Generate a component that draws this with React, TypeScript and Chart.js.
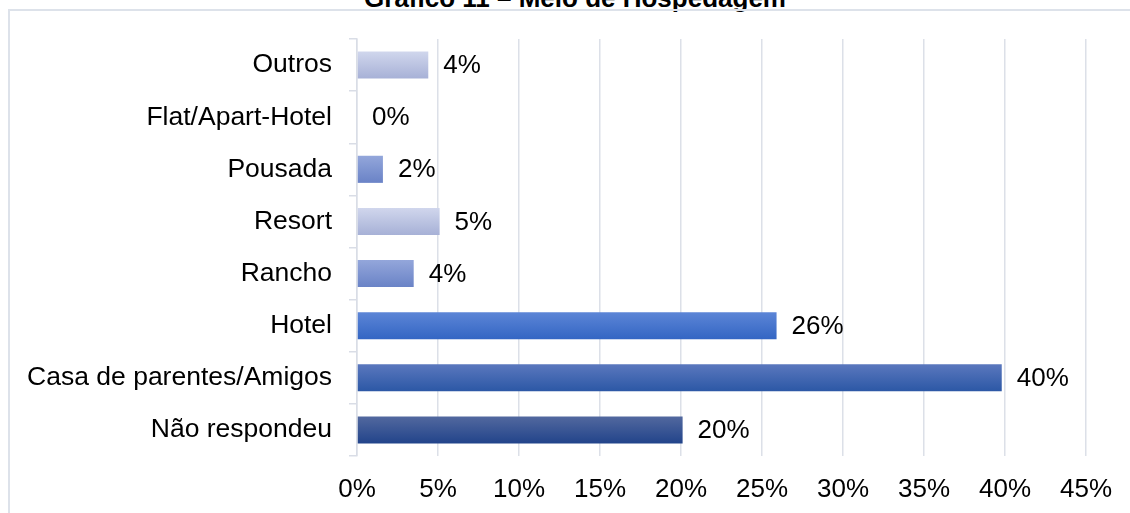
import React, { useEffect, useRef } from "react";
import { Chart, registerables } from "chart.js";

Chart.register(...registerables);

const TITLE = "Gráfico 11 – Meio de Hospedagem";
const categories = [
  "Outros",
  "Flat/Apart-Hotel",
  "Pousada",
  "Resort",
  "Rancho",
  "Hotel",
  "Casa de parentes/Amigos",
  "Não respondeu",
];
const values = [4.4, 0, 1.6, 5.1, 3.5, 25.9, 39.8, 20.1];
const topColors = ["#d1d7ed", "#d1d7ed", "#94a7db", "#d1d7ed", "#94a7db", "#5d86d7", "#5b78be", "#53699f"];
const bottomColors = ["#a6b0d6", "#a6b0d6", "#6982c6", "#a6b0d6", "#6982c6", "#3365c3", "#2b57a5", "#21438a"];
const xMax = 45;
const xStep = 5;

const FONT = "'Liberation Sans', Arial, sans-serif";

const labelPlugin = {
  id: "valueLabels",
  afterDatasetsDraw(chart: any) {
    const ctx = chart.ctx;
    const meta = chart.getDatasetMeta(0);
    ctx.save();
    ctx.font = `26px ${FONT}`;
    ctx.fillStyle = "#000000";
    ctx.textAlign = "left";
    ctx.textBaseline = "middle";
    meta.data.forEach((bar: any, i: number) => {
      ctx.fillText(Math.round(values[i]) + "%", bar.x + 15, bar.y + 1);
    });
    ctx.restore();
  },
};

export default function App() {
  const ref = useRef<HTMLCanvasElement>(null);
  useEffect(() => {
    if (!ref.current) return;
    const chart = new Chart(ref.current, {
      type: "bar",
      data: {
        labels: categories,
        datasets: [
          {
            data: values,
            backgroundColor: (c: any) => {
              const ch = c.chart;
              const i = c.dataIndex;
              if (!ch.chartArea || !ch.scales || !ch.scales.y || i === undefined) return topColors[i || 0];
              const yc = ch.scales.y.getPixelForValue(i);
              const g = ch.ctx.createLinearGradient(0, yc - 14, 0, yc + 14);
              g.addColorStop(0, topColors[i]);
              g.addColorStop(1, bottomColors[i]);
              return g;
            },
            borderWidth: 0,
            barPercentage: 0.52,
            categoryPercentage: 1,
          },
        ],
      },
      options: {
        indexAxis: "y",
        animation: false,
        responsive: false,
        maintainAspectRatio: false,
        layout: { padding: { top: 39, right: 44, bottom: 0, left: 0 } },
        plugins: {
          legend: { display: false },
          title: { display: false },
          tooltip: { enabled: false },
        },
        scales: {
          x: {
            min: 0,
            max: xMax,
            ticks: {
              stepSize: xStep,
              callback: (v: any) => v + "%",
              color: "#000000",
              font: { family: FONT, size: 26 },
              padding: 18,
              maxRotation: 0,
            },
            grid: { color: "#dce0e8", lineWidth: 1.5, drawTicks: false },
            border: { display: false },
            afterFit: (s: any) => {
              s.height = 57;
            },
          },
          y: {
            ticks: {
              color: "#000000",
              font: { family: FONT, size: 26.5 },
              padding: 17,
            },
            grid: {
              offset: true,
              drawOnChartArea: false,
              drawTicks: true,
              tickLength: 8,
              color: "#d9dde6",
              lineWidth: 1.5,
            },
            border: { display: true, color: "#d9dde6", width: 1.5 },
            afterFit: (s: any) => {
              s.width = 357;
            },
          },
        },
      },
      plugins: [labelPlugin],
    } as any);
    return () => chart.destroy();
  }, []);

  return (
    <div style={{ position: "absolute", left: 0, top: 0, width: 1130, height: 513, overflow: "hidden", background: "#ffffff" }}>
      <div
        style={{
          position: "absolute",
          left: 575,
          top: -17,
          transform: "translateX(-50%)",
          whiteSpace: "nowrap",
          fontFamily: FONT,
          fontWeight: "bold",
          fontSize: 26,
          lineHeight: "30px",
          color: "#000000",
        }}
      >
        {TITLE}
      </div>
      <div
        style={{
          position: "absolute",
          left: 8,
          top: 9,
          width: 1200,
          height: 600,
          borderTop: "2px solid #dde2ea",
          borderLeft: "2px solid #dde2ea",
        }}
      />
      <canvas ref={ref} width={1130} height={513} style={{ position: "absolute", left: 0, top: 0 }} />
    </div>
  );
}
